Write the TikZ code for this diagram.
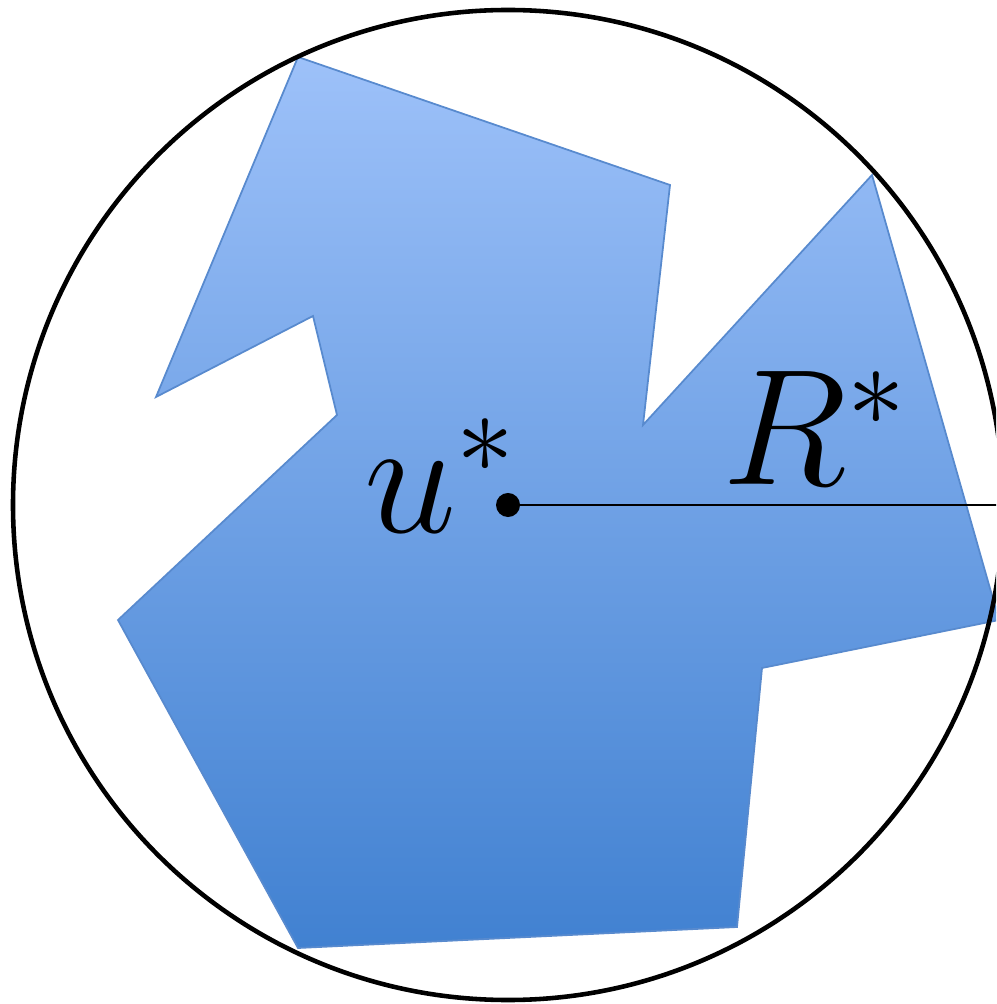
\RequirePackage{fix-cm}
\documentclass[tikz,border=0pt]{standalone}
\usepackage{amsmath,amssymb}
\usepackage{xcolor}
\usepackage{tikz}
\usetikzlibrary{calc}

\definecolor{regtop}{RGB}{157,193,249}
\definecolor{regbot}{RGB}{65,129,209}
\definecolor{regedge}{RGB}{88,138,206}

\begin{document}
\begin{tikzpicture}[
  x=0.01cm, y=-0.01cm,
  region/.style={draw=regedge, line width=0.5pt, top color=regtop, bottom color=regbot},
  ball/.style={draw=black, line width=1.3pt},
  radius line/.style={draw=black, line width=0.75pt},
  dot/.style={circle, fill=black, inner sep=0pt, minimum size=0.24cm},
  lbl/.style={inner sep=0pt, font=\fontsize{47}{50}\selectfont}
]
\useasboundingbox (0,0) rectangle (996,1004);
\clip (0,0) rectangle (996,1004);

% region
\path[region] (298,57) -- (670,185) -- (643,425) -- (872,175) -- (999,620)
  -- (762,668) -- (737,927) -- (298,948) -- (118,620) -- (337,415)
  -- (313,316) -- (156,397) -- cycle;

% ball round u*
\coordinate (c) at (508,505);
\draw[ball] (c) circle [radius=495];
\coordinate (rim) at ($(c)+(495,0)$);

\node[dot] (u) at (c) {};
\draw[radius line] (u.center) -- (rim);

\node[lbl, anchor=base west] (ulbl) at (364,532) {$u^*$};
\node[lbl, anchor=base west] (rlbl) at (722,485) {$R^*$};
\end{tikzpicture}
\end{document}
